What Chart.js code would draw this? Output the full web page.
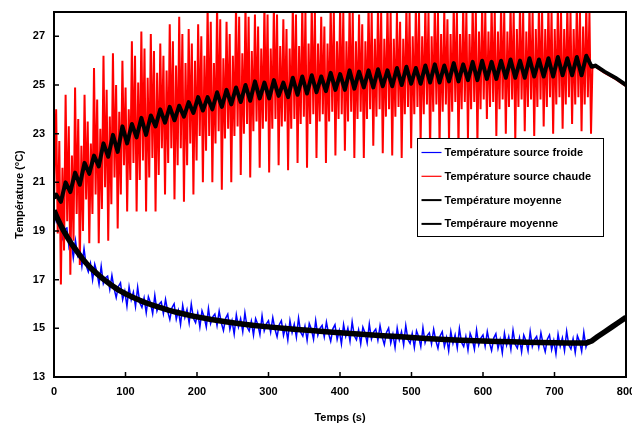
<!DOCTYPE html>
<html><head><meta charset="utf-8">
<script src="https://cdn.jsdelivr.net/npm/chart.js@4.4.1/dist/chart.umd.min.js"></script>
<style>html,body{margin:0;padding:0;background:#fff}#wrap{width:632px;height:425px}</style>
</head><body><div id="wrap"><canvas id="c" width="632" height="425"></canvas></div>
<script>
// ---------------- data ----------------
const xTicks = [0,100,200,300,400,500,600,700,800];
const yTicks = [13,15,17,19,21,23,25,27];
const seriesLabels = ['Température source froide','Température source chaude','Température moyenne','Tempéraure moyenne'];

// cold source (blue), sampled every 3 s from t = 0 to 750
const blueStep = 3;
const blueValues = [
19.90,19.42,19.86,19.20,18.71,19.07,19.12,18.33,18.59,17.89,18.61,17.99,18.23,17.55,18.28,17.58,17.32,17.67,16.99,17.63,
17.31,16.81,17.55,16.84,17.08,17.15,16.60,17.18,16.64,16.26,16.72,16.87,16.18,16.53,15.91,16.71,16.17,16.49,15.89,16.69,
16.05,15.86,16.25,15.64,16.30,16.04,15.60,16.36,15.72,15.99,
16.09,15.60,16.19,15.70,15.36,15.85,16.01,15.37,15.73,15.16,
15.95,15.44,15.77,15.22,16.00,15.41,15.23,15.64,15.05,15.72,
15.47,15.05,15.82,15.19,15.47,15.59,15.11,15.71,15.23,14.91,
15.41,15.58,14.95,15.32,14.76,15.56,15.06,15.40,14.86,15.64,
15.06,14.89,15.30,14.72,15.40,15.16,14.74,15.52,14.90,15.18,
15.31,14.84,15.44,14.97,14.65,15.15,15.32,14.71,15.08,14.52,
15.32,14.82,15.17,14.63,15.42,14.84,14.68,15.09,14.51,15.20,
14.96,14.55,15.33,14.71,15.00,15.12,14.65,15.26,14.79,14.47,
14.98,15.15,14.54,14.91,14.36,15.16,14.67,15.01,14.47,15.27,
14.69,14.53,14.94,14.36,15.05,14.81,14.40,15.18,14.56,14.85,
14.97,14.51,15.11,14.64,14.33,14.83,15.01,14.39,14.76,14.21,
15.01,14.52,14.86,14.32,15.12,14.54,14.38,14.79,14.21,14.90,
14.66,14.25,15.03,14.41,14.70,14.82,14.36,14.96,14.50,14.18,
14.69,14.86,14.25,14.62,14.07,14.87,14.38,14.73,14.19,14.99,
14.42,14.25,14.67,14.10,14.79,14.55,14.14,14.93,14.31,14.60,
14.73,14.26,14.87,14.41,14.09,14.60,14.78,14.17,14.54,13.99,
14.80,14.31,14.66,14.13,14.92,14.35,14.19,14.61,14.03,14.72,
14.49,14.08,14.87,14.25,14.54,14.67,14.21,14.82,14.36,14.04,
14.55,14.73,14.12,14.50,13.95,14.76,14.26,14.61,14.08,14.88,
14.31,14.15,14.57,14.00,14.69,14.46,14.05,14.84,14.23,14.52,
14.45];
const blueTailT = [755,760,770,780,790,800];
const blueTailV = [14.55,14.66,14.86,15.06,15.26,15.45];

// cold mean (black)
const coldT = [0,5,10,15,20,25,30,35,40,45,50,55,60,65,70,80,90,100,110,120,130,140,150,160,170,180,190,200,220,240,260,280,300,320,340,360,380,400,420,440,460,480,500,520,540,560,580,600,620,640,660,680,700,720,745,752,760,770,780,790,800];
const coldV = [19.85,19.5,19.2,18.93,18.68,18.45,18.25,18.05,17.85,17.68,17.52,17.38,17.25,17.12,17.0,16.78,16.58,16.42,16.28,16.15,16.03,15.93,15.84,15.75,15.67,15.6,15.53,15.47,15.36,15.27,15.19,15.12,15.06,15.0,14.95,14.91,14.86,14.82,14.78,14.74,14.7,14.66,14.62,14.58,14.55,14.52,14.5,14.48,14.46,14.45,14.43,14.42,14.41,14.4,14.4,14.48,14.65,14.85,15.05,15.25,15.45];

// hot source (red): one row per heating cycle, 6 samples per cycle
const cycleStart = 3;
const cyclePeriod = 13.24;
const redHead = [0, 20.2];
const redCycles = [
[24.0,18.9,22.7,16.8,21.6,18.2],[24.6,19.4,23.3,17.2,22.1,18.6],[24.9,19.7,23.6,17.6,22.5,19.0],
[24.6,20.3,23.5,18.5,22.6,19.7],[25.7,20.5,24.4,18.5,23.2,19.9],[26.2,20.8,24.8,18.6,23.7,20.1],
[26.3,21.2,25.0,19.1,23.9,20.5],[26.0,21.7,24.9,19.8,24.0,21.1],[26.8,21.8,26.2,19.8,25.1,21.1],
[27.2,21.9,26.5,19.8,25.3,21.2],[27.1,22.0,26.4,19.8,25.5,21.3],[26.7,22.4,26.2,20.5,25.6,21.8],
[27.5,22.4,26.8,20.3,25.8,21.7],[27.8,22.4,27.1,20.2,25.9,21.7],[27.3,22.6,26.7,20.5,26.0,21.9],
[27.5,22.9,27.0,21.0,26.2,22.3],[28.3,22.9,27.6,21.0,25.9,22.6],[28.3,23.1,27.7,20.7,26.1,22.8],
[27.6,23.2,27.1,21.0,26.2,22.9],[28.3,23.3,27.8,21.3,26.3,23.0],[28.3,23.4,27.8,21.2,26.4,23.1],
[27.9,23.5,27.4,21.6,26.5,23.2],[28.3,23.5,27.9,21.4,26.5,23.2],[28.3,23.6,27.9,21.7,26.6,23.3],
[27.7,23.5,27.3,21.5,26.5,23.2],[28.3,23.6,27.9,21.8,26.6,23.4],[28.3,23.7,28.0,21.6,26.7,23.4],
[28.3,23.8,28.0,22.0,26.7,23.5],[27.8,23.8,27.4,21.8,26.7,23.5],[28.3,23.9,28.0,22.1,26.8,23.6],
[28.3,23.8,28.0,22.3,26.8,23.5],[28.3,23.9,28.0,22.0,26.8,23.6],[27.9,23.9,27.5,22.0,26.8,23.6],
[28.3,24.0,28.0,22.5,26.9,23.7],[28.3,24.0,28.0,22.2,26.9,23.7],[28.3,24.0,28.0,22.1,26.9,23.7],
[28.0,24.1,27.6,22.0,26.9,23.8],[28.3,24.1,28.0,22.4,27.0,23.8],[28.3,24.1,28.0,22.6,27.0,23.8],
[28.3,24.2,28.0,22.3,27.0,23.9],[28.3,24.2,28.0,22.5,27.1,23.9],[28.1,24.2,27.7,22.7,27.1,23.9],
[28.3,24.3,28.0,22.4,27.1,24.0],[28.3,24.3,28.0,22.8,27.1,24.0],[28.3,24.3,28.0,22.6,27.2,24.0],
[28.3,24.4,28.0,23.6,27.2,24.1],[28.3,24.3,28.0,22.9,27.2,24.0],[28.3,24.4,28.0,23.0,27.2,24.1],
[28.3,24.4,28.0,22.7,27.3,24.1],[28.3,24.4,28.0,23.1,27.2,24.1],[28.3,24.4,28.0,22.9,27.3,24.1],
[28.3,24.4,28.0,23.3,27.3,24.1],[28.3,24.5,28.0,23.0,27.3,24.2],[28.3,24.5,28.0,23.2,27.3,24.2],
[28.3,24.5,28.0,23.4,27.3,24.2],[28.3,24.5,28.0,23.1,27.4,24.2],[28.3,24.5,28.0,23.0]
];
const redTailT = [753,757,770,785,800];
const redTailV = [25.7,25.75,25.5,25.25,24.95];

// hot mean (black): peak and trough of each cycle
const hotHead = [0, 20.35];
const hotPeak = [20.5,21.0,21.4,21.8,22.1,22.6,22.95,23.3,23.4,23.65,23.75,24.0,24.1,24.15,24.3,24.5,24.5,24.7,24.8,24.9,25.0,25.15,25.1,25.2,25.1,25.3,25.35,25.4,25.35,25.5,25.45,25.6,25.55,25.6,25.65,25.6,25.7,25.75,25.7,25.8,25.85,25.8,25.9,25.85,25.95,26.0,25.95,26.0,26.05,26.0,26.1,26.05,26.1,26.15,26.1,26.15,26.2];
const hotTrough = [20.2,20.6,20.9,21.35,21.65,22.05,22.25,22.6,22.85,22.95,23.3,23.45,23.55,23.7,23.85,23.95,24.0,24.1,24.2,24.3,24.35,24.45,24.45,24.55,24.5,24.6,24.65,24.7,24.75,24.8,24.8,24.85,24.9,24.9,24.95,24.95,25.0,25.05,25.05,25.1,25.1,25.15,25.15,25.2,25.2,25.25,25.25,25.3,25.3,25.3,25.35,25.35,25.35,25.4,25.4,25.4];
const hotTailT = [752,757,770,785,800];
const hotTailV = [25.75,25.8,25.55,25.3,25.0];

// ---------------- build point tables ----------------
const bluePts = blueValues.map((v,i)=>({x:i*blueStep, y:v}))
  .concat(blueTailT.map((t,i)=>({x:t, y:blueTailV[i]})));
const coldPts = coldT.map((t,i)=>({x:t, y:coldV[i]}));
const redPts = [{x:redHead[0], y:redHead[1]}];
redCycles.forEach((row,k)=>{
  row.forEach((v,j)=>redPts.push({x:cycleStart + k*cyclePeriod + j*cyclePeriod/6, y:v}));
});
redTailT.forEach((t,i)=>redPts.push({x:t, y:redTailV[i]}));
const hotPts = [{x:hotHead[0], y:hotHead[1]}];
hotPeak.forEach((v,k)=>{
  hotPts.push({x:cycleStart + k*cyclePeriod, y:v});
  if (k < hotTrough.length) hotPts.push({x:cycleStart + k*cyclePeriod + cyclePeriod/2, y:hotTrough[k]});
});
hotTailT.forEach((t,i)=>hotPts.push({x:t, y:hotTailV[i]}));

// ---------------- chart ----------------
const FONT = "'Liberation Sans', Arial, sans-serif";
const colors = ['#0000FF','#FF0000','#000000','#000000'];

const decorPlugin = {
  id: 'decor',
  beforeDraw(chart){
    const c = chart.ctx; c.save(); c.fillStyle = '#fff'; c.fillRect(0,0,chart.width,chart.height); c.restore();
  },
  afterDatasetsDraw(chart){
    const {ctx, chartArea:a, scales:{x, y}} = chart;
    ctx.save();
    ctx.strokeStyle = '#000';
    ctx.lineWidth = 1.5;
    ctx.beginPath();
    xTicks.forEach(v=>{ const px = x.getPixelForValue(v); ctx.moveTo(px, a.bottom); ctx.lineTo(px, a.bottom-5); });
    yTicks.forEach(v=>{ const py = y.getPixelForValue(v); ctx.moveTo(a.left, py); ctx.lineTo(a.left+5, py); });
    ctx.stroke();
    ctx.lineWidth = 2;
    ctx.strokeRect(a.left, a.top, a.right-a.left, a.bottom-a.top);

    // legend box
    const L = {left: 417.5, top: 138.5, width: 186, height: 98};
    ctx.fillStyle = '#fff';
    ctx.fillRect(L.left, L.top, L.width, L.height);
    ctx.lineWidth = 1;
    ctx.strokeStyle = '#000';
    ctx.strokeRect(L.left, L.top, L.width, L.height);
    ctx.font = "bold 11px " + FONT;
    ctx.textBaseline = 'middle';
    ctx.textAlign = 'left';
    [0,1,2,3].forEach((di,i)=>{
      const ds = chart.data.datasets[di];
      const yy = L.top + 14 + i*23.8;
      ctx.strokeStyle = ds.borderColor;
      ctx.lineWidth = di < 2 ? 1.2 : 2;
      ctx.beginPath(); ctx.moveTo(L.left+4, yy); ctx.lineTo(L.left+24, yy); ctx.stroke();
      ctx.fillStyle = '#000';
      ctx.fillText(ds.label, L.left+27, yy+0.5);
    });
    ctx.restore();
  }
};

new Chart(document.getElementById('c'), {
  type: 'line',
  data: {
    datasets: [
      {label: seriesLabels[0], data: bluePts, borderColor: colors[0], borderWidth: 1.5, order: 3},
      {label: seriesLabels[1], data: redPts, borderColor: colors[1], borderWidth: 2, order: 2},
      {label: seriesLabels[2], data: hotPts, borderColor: colors[2], borderWidth: 4, order: 1, borderJoinStyle: 'round'},
      {label: seriesLabels[3], data: coldPts, borderColor: colors[3], borderWidth: 5.5, order: 0, borderJoinStyle: 'round'}
    ]
  },
  options: {
    responsive: false,
    animation: false,
    devicePixelRatio: 1,
    parsing: false,
    layout: {padding: {top: 12, right: 6, left: 0, bottom: 0}},
    elements: {point: {radius: 0}, line: {tension: 0, fill: false}},
    datasets: {line: {clip: 0}},
    plugins: {legend: {display: false}, tooltip: {enabled: false}},
    scales: {
      x: {
        type: 'linear', min: 0, max: 800,
        afterBuildTicks: s => { s.ticks = xTicks.map(v=>({value:v})); },
        afterFit: s => { s.height = 48; s.paddingLeft = 0; s.paddingRight = 0; },
        grid: {display: false, drawTicks: false},
        border: {display: false},
        ticks: {color: '#000', font: {family: FONT, size: 11, weight: 'bold'}, padding: 8, maxRotation: 0, autoSkip: false},
        title: {display: true, text: 'Temps (s)', color: '#000', font: {family: FONT, size: 11, weight: 'bold'}, padding: {top: 0, bottom: 0}}
      },
      y: {
        type: 'linear', min: 13, max: 28,
        afterBuildTicks: s => { s.ticks = yTicks.map(v=>({value:v})); },
        afterFit: s => { s.width = 54; s.paddingTop = 0; s.paddingBottom = 0; },
        grid: {display: false, drawTicks: false},
        border: {display: false},
        ticks: {color: '#000', font: {family: FONT, size: 11, weight: 'bold'}, padding: 9, autoSkip: false},
        title: {display: true, text: 'Température (°C)', color: '#000', font: {family: FONT, size: 11, weight: 'bold'}, padding: {top: 13, bottom: 0}}
      }
    }
  },
  plugins: [decorPlugin]
});
</script>
</body></html>
